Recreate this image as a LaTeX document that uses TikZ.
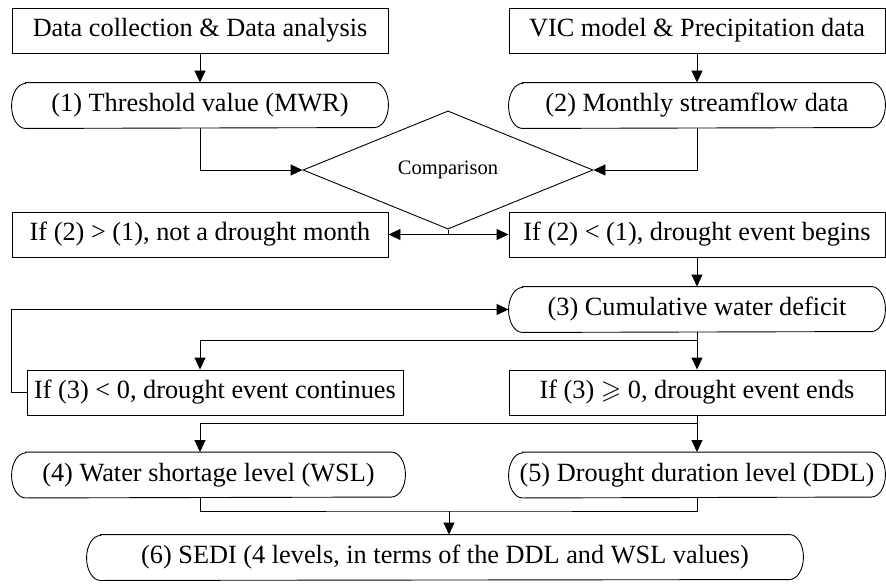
\documentclass[tikz,border=0pt]{standalone}
\usepackage{fontspec}
\setmainfont{Liberation Serif}
\usepackage{amssymb}
\usetikzlibrary{arrows.meta,shapes.geometric}
\begin{document}
\begin{tikzpicture}[x=1pt,y=1pt,line width=0.9pt,
  txt/.style={font=\fontsize{26.3}{29}\selectfont},
  box/.style={txt,draw,rectangle,minimum width=376pt,minimum height=45pt,inner sep=0pt},
  rbox/.style={txt,rectangle,minimum width=376pt,minimum height=45pt,inner sep=0pt},
  decis/.style={draw,diamond,minimum width=290pt,minimum height=84pt,inner sep=0pt,font=\fontsize{20.5}{24}\selectfont},
  arr/.style={-{Triangle[length=12pt,width=11pt]}}]
\useasboundingbox (0,0) rectangle (886,-586);
\node[box] (A) at (200,-30.5) {Data collection \& Data analysis};
\node[box] (B) at (697,-30.5) {VIC model \& Precipitation data};
\node[rbox] (R1) at (200,-105.5) {(1) Threshold value (MWR)};
\node[rbox] (R2) at (697,-105.5) {(2) Monthly streamflow data};
\node[decis] (Cmp) at (448,-170) {Comparison};
\node[box] (C) at (200,-234.5) {If (2) > (1), not a drought month};
\node[box] (D) at (697,-234.5) {If (2) < (1), drought event begins};
\node[rbox] (R3) at (697,-309.5) {(3) Cumulative water deficit};
\node[box] (E) at (215,-392.5) {If (3) < 0, drought event continues};
\node[box] (F) at (697,-392.5) {If (3) $\geqslant$ 0, drought event ends};
\node[rbox,minimum width=393pt] (R4) at (208.5,-475) {(4) Water shortage level (WSL)};
\node[rbox] (R5) at (697,-475) {(5) Drought duration level (DDL)};
\node[rbox,minimum width=716pt] (R6) at (445,-557.5) {(6) SEDI (4 levels, in terms of the DDL and WSL values)};
\foreach \n in {R1,R2,R3,R4,R5,R6}
  \draw ([xshift=14pt]\n.north west) -- ([xshift=-14pt]\n.north east)
    arc[start angle=90,end angle=-90,x radius=14pt,y radius=22.5pt]
    -- ([xshift=14pt]\n.south west)
    arc[start angle=270,end angle=90,x radius=14pt,y radius=22.5pt] -- cycle;
% connectors
\draw[arr] (A.south) -- (R1.north);
\draw[arr] (B.south) -- (R2.north);
\draw[arr] (R1.south) |- (Cmp.west);
\draw[arr] (R2.south) |- (Cmp.east);
\coordinate (j1) at (Cmp.south |- C.east);
\draw (Cmp.south) -- (j1);
\draw[arr] (j1) -- (C.east);
\draw[arr] (j1) -- (D.west);
\draw[arr] (D.south) -- (R3.north);
\draw[arr] (E.west) -- ++(-15,0) |- (R3.west);
\coordinate (j2) at (697,-340);
\draw (R3.south) -- (j2);
\draw[arr] (j2) -- (F.north);
\draw[arr] (j2) -| (E.north -| R1.south);
\coordinate (j3) at (697,-423);
\draw (F.south) -- (j3);
\draw[arr] (j3) -- (R5.north);
\draw[arr] (j3) -| (R4.north -| R1.south);
\coordinate (j4) at (449,-511);
\draw (R4.south -| R1.south) |- (j4) -| (R5.south);
\draw[arr] (j4) -- (j4 |- R6.north);
\end{tikzpicture}
\end{document}
